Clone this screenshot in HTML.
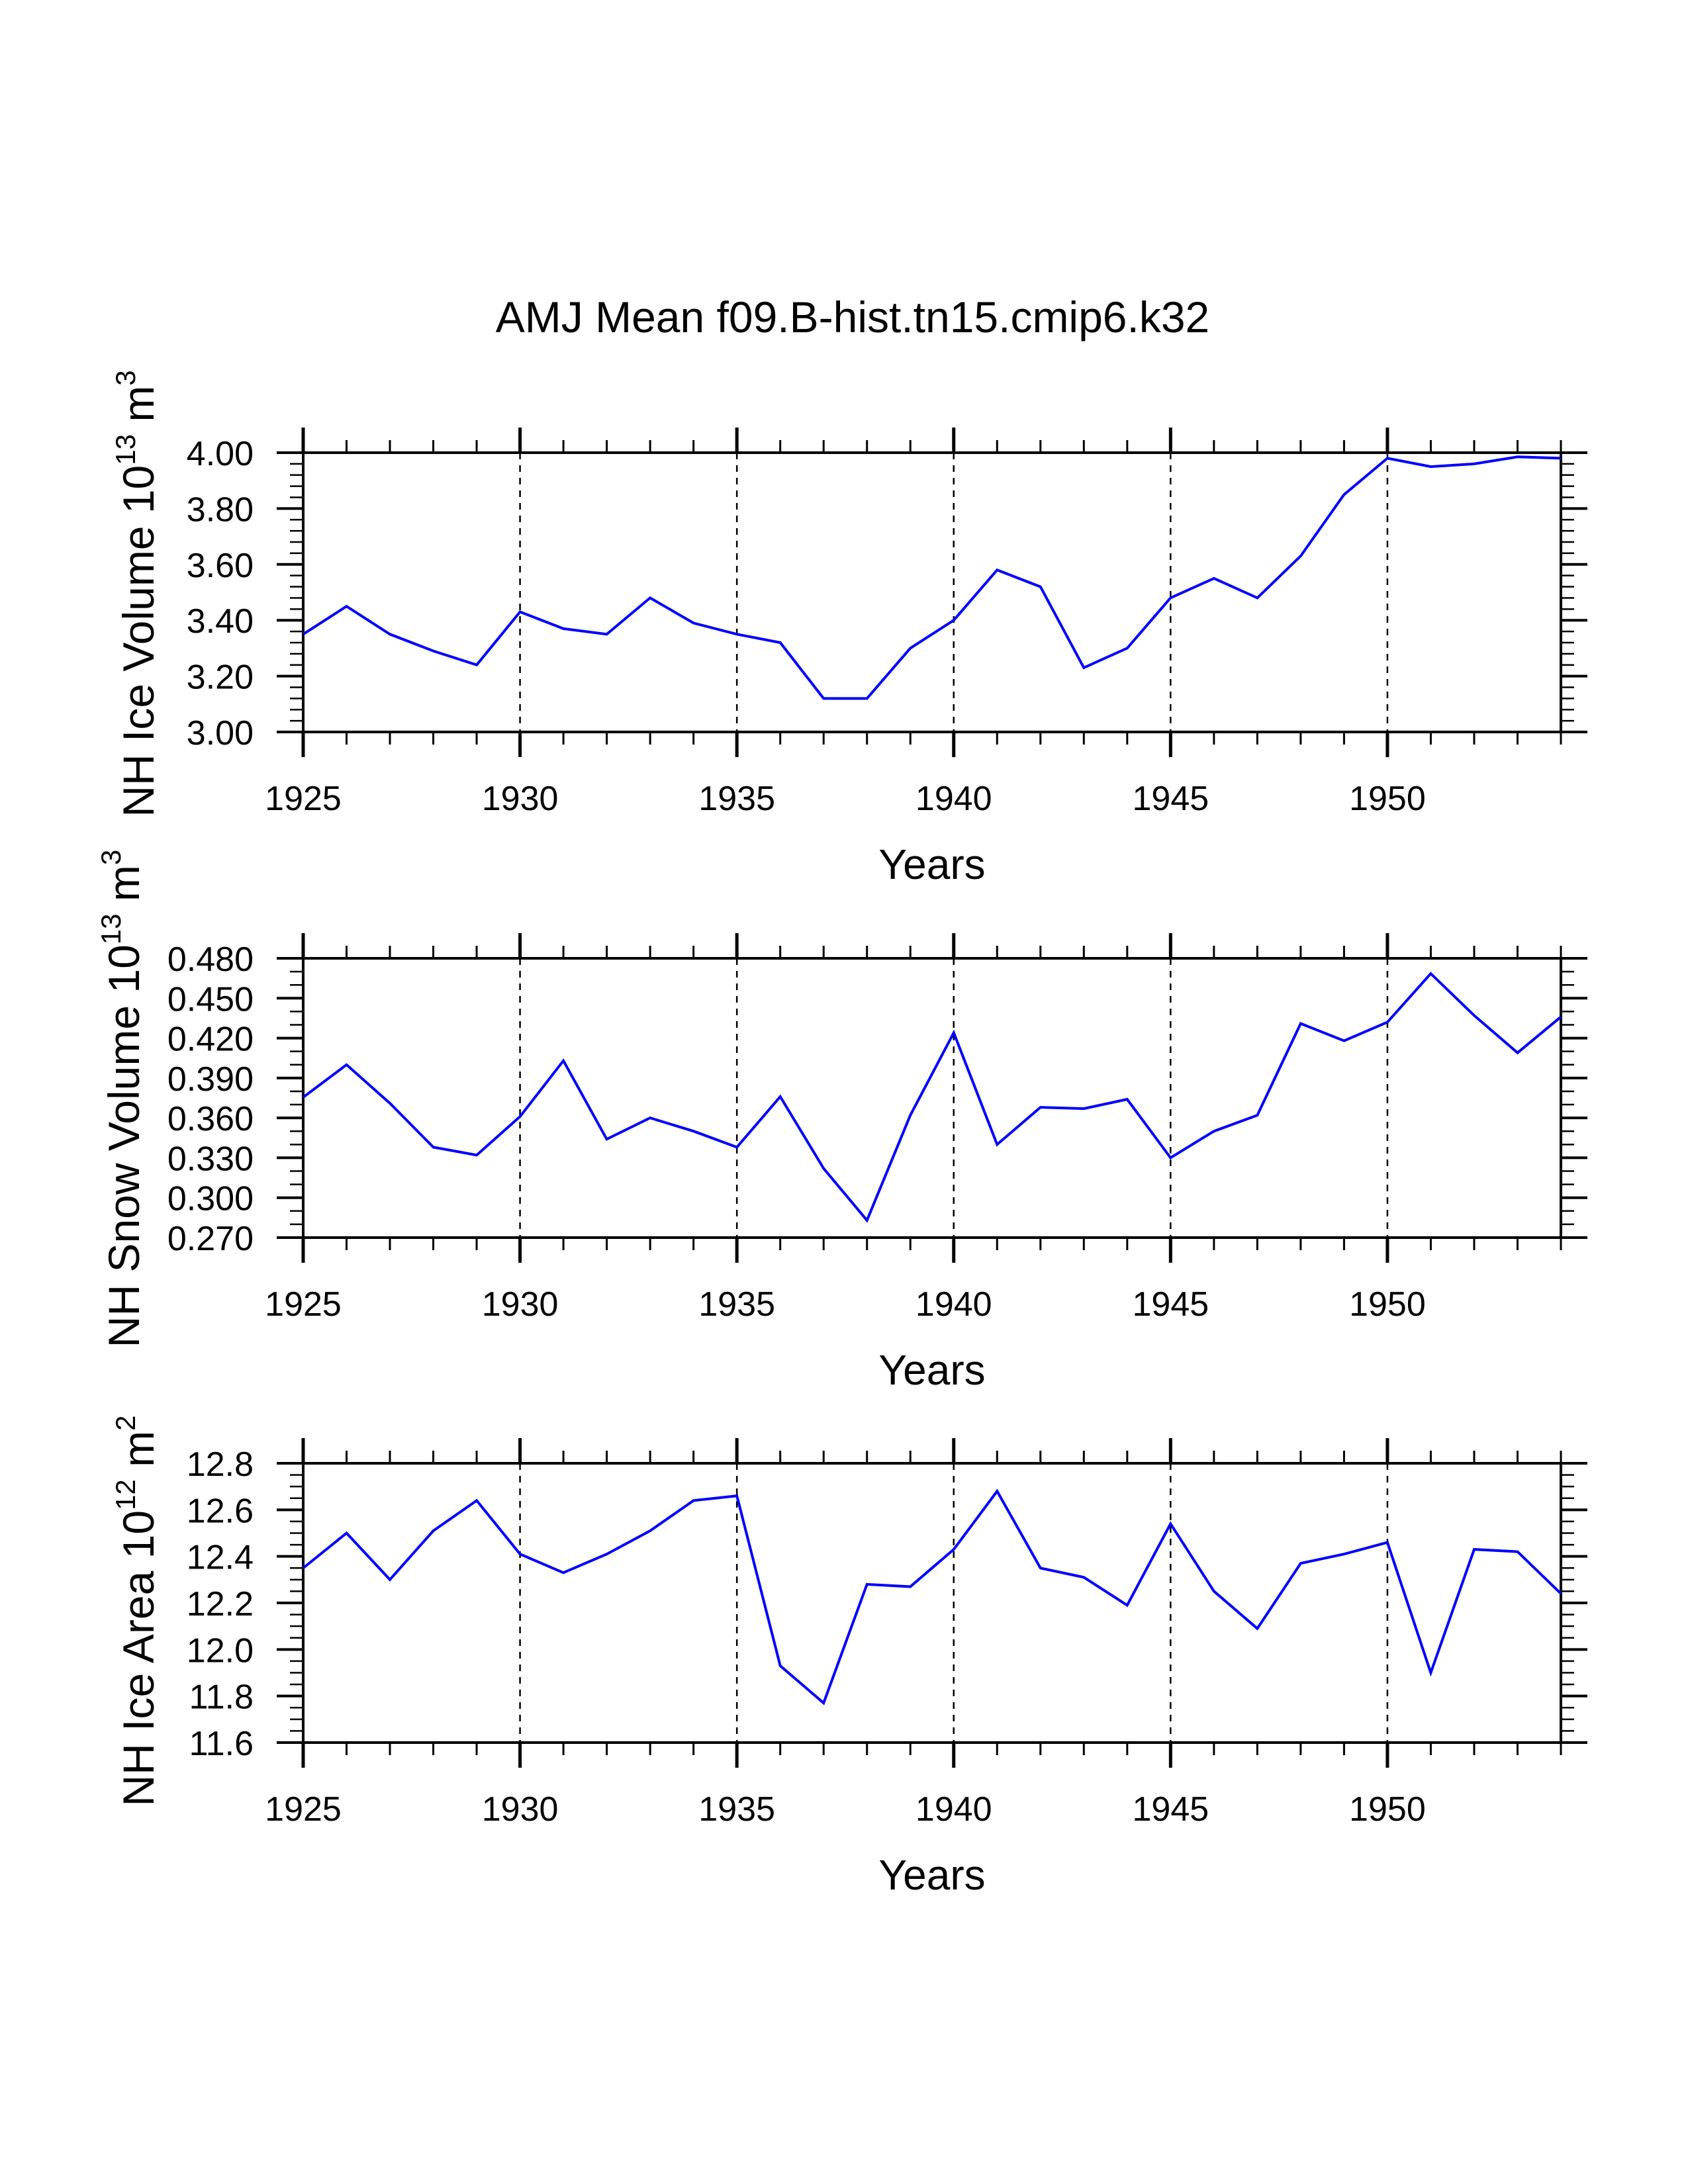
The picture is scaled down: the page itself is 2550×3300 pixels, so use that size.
<!DOCTYPE html>
<html><head><meta charset="utf-8"><title>AMJ Mean</title>
<style>html,body{margin:0;padding:0;background:#fff;}svg{display:block;}text{font-family:"Liberation Sans",sans-serif;fill:#000;}</style>
</head><body>
<svg id="chart" width="2550" height="3300" viewBox="0 0 2550 3300" xmlns="http://www.w3.org/2000/svg">
<text x="1288" y="502" font-size="66" text-anchor="middle">AMJ Mean f09.B-hist.tn15.cmip6.k32</text>
</svg>
<script>
const years = [1925,1926,1927,1928,1929,1930,1931,1932,1933,1934,1935,1936,1937,1938,1939,1940,1941,1942,1943,1944,1945,1946,1947,1948,1949,1950,1951,1952,1953,1954];
const iceVolume = [3.35,3.45,3.35,3.29,3.24,3.43,3.37,3.35,3.48,3.39,3.35,3.32,3.12,3.12,3.30,3.40,3.58,3.52,3.23,3.30,3.48,3.55,3.48,3.63,3.85,3.98,3.95,3.96,3.985,3.98];
const snowVolume = [0.3755,0.400,0.371,0.338,0.332,0.361,0.403,0.344,0.360,0.350,0.338,0.376,0.322,0.283,0.362,0.424,0.340,0.368,0.367,0.374,0.330,0.350,0.362,0.431,0.418,0.432,0.4685,0.437,0.409,0.436];
const iceArea = [12.35,12.50,12.30,12.51,12.64,12.41,12.33,12.41,12.51,12.64,12.66,11.93,11.77,12.28,12.27,12.43,12.68,12.35,12.31,12.19,12.54,12.25,12.09,12.37,12.41,12.46,11.90,12.43,12.42,12.24];
const xTicks = [1925,1930,1935,1940,1945,1950];
const ticks1 = ["3.00","3.20","3.40","3.60","3.80","4.00"];
const ticks2 = ["0.270","0.300","0.330","0.360","0.390","0.420","0.450","0.480"];
const ticks3 = ["11.6","11.8","12.0","12.2","12.4","12.6","12.8"];

const NS = "http://www.w3.org/2000/svg";
const svg = document.getElementById('chart');
const X0 = 458, X1 = 2358, XMIN = 1925, XMAX = 1954, H = 422;
function xs(v){ return X0 + (v - XMIN) / (XMAX - XMIN) * (X1 - X0); }
function mk(tag, attrs, parent){ const e = document.createElementNS(NS, tag); for (const k in attrs) e.setAttribute(k, attrs[k]); (parent||svg).appendChild(e); return e; }

const panels = [
 {top:684, vals:iceVolume, ticks:ticks1, ymin:3.0, ymax:4.0, minor:0.04, lx:232, ly:897, main:"NH Ice Volume 10", sup:"13", unit:" m", sup2:"3", name:"ice-volume"},
 {top:1448, vals:snowVolume, ticks:ticks2, ymin:0.27, ymax:0.48, minor:0.01, lx:210, ly:1660, main:"NH Snow Volume 10", sup:"13", unit:" m", sup2:"3", name:"snow-volume"},
 {top:2211, vals:iceArea, ticks:ticks3, ymin:11.6, ymax:12.8, minor:0.05, lx:232, ly:2434, main:"NH Ice Area 10", sup:"12", unit:" m", sup2:"2", name:"ice-area"}
];

panels.forEach(p => {
  const g = mk('g', {});
  
  
  const top = p.top, bot = p.top + H;
  const ys = v => bot - (v - p.ymin) / (p.ymax - p.ymin) * H;
  xTicks.slice(1).forEach(t => {
    const l = mk('line', {x1:xs(t), x2:xs(t), y1:top, y2:bot, stroke:'#000', 'stroke-width':2.5, 'stroke-dasharray':'10,9'}, g);
    
    
  });
  for (let y = XMIN; y <= XMAX; y++) {
    const major = xTicks.includes(y);
    const len = major ? 38 : 19, sw = major ? 5 : 3;
    mk('line', {x1:xs(y), x2:xs(y), y1:top, y2:top-len, stroke:'#000', 'stroke-width':sw}, g);
    mk('line', {x1:xs(y), x2:xs(y), y1:bot, y2:bot+len, stroke:'#000', 'stroke-width':sw}, g);
  }
  xTicks.forEach(t => {
    const tx = mk('text', {x:xs(t), y:bot+118, 'font-size':52, 'text-anchor':'middle'}, g);
    tx.textContent = String(t);
    
    
  });
  const nMin = Math.round((p.ymax - p.ymin) / p.minor);
  const step = (p.ymax - p.ymin) / (p.ticks.length - 1);
  for (let i = 0; i <= nMin; i++) {
    const v = p.ymin + i * p.minor;
    const isMajor = Math.abs(((v - p.ymin) / step) - Math.round((v - p.ymin) / step)) < 1e-6;
    const len = isMajor ? 40 : 20, sw = isMajor ? 4 : 2.5;
    mk('line', {x1:X0, x2:X0-len, y1:ys(v), y2:ys(v), stroke:'#000', 'stroke-width':sw}, g);
    mk('line', {x1:X1, x2:X1+len, y1:ys(v), y2:ys(v), stroke:'#000', 'stroke-width':sw}, g);
  }
  p.ticks.forEach(t => {
    const tx = mk('text', {x:383, y:ys(parseFloat(t))+19, 'font-size':52, 'text-anchor':'end'}, g);
    tx.textContent = t;
    
    
  });
  const fr = mk('rect', {x:X0, y:top, width:X1-X0, height:H, fill:'none', stroke:'#000', 'stroke-width':4}, g);
  
  
  const pts = years.map((yr, i) => xs(yr).toFixed(1) + ',' + ys(p.vals[i]).toFixed(1)).join(' ');
  const pl = mk('polyline', {points:pts, fill:'none', stroke:'#0000ff', 'stroke-width':4, 'stroke-linejoin':'miter'}, g);
  
  
  const xt = mk('text', {x:1408, y:bot+222, 'font-size':64, 'text-anchor':'middle'}, g);
  xt.textContent = 'Years';
  
  
  const yt = mk('text', {x:0, y:0, 'font-size':66, 'text-anchor':'middle', transform:'translate(' + p.lx + ',' + p.ly + ') rotate(-90)'}, g);
  
  
  const t1 = mk('tspan', {}, yt); t1.textContent = p.main;
  const t2 = mk('tspan', {dy:-28, 'font-size':42}, yt); t2.textContent = p.sup;
  const t3 = mk('tspan', {dy:28}, yt); t3.textContent = p.unit;
  const t4 = mk('tspan', {dy:-28, 'font-size':42}, yt); t4.textContent = p.sup2;
});
</script>
</body></html>
